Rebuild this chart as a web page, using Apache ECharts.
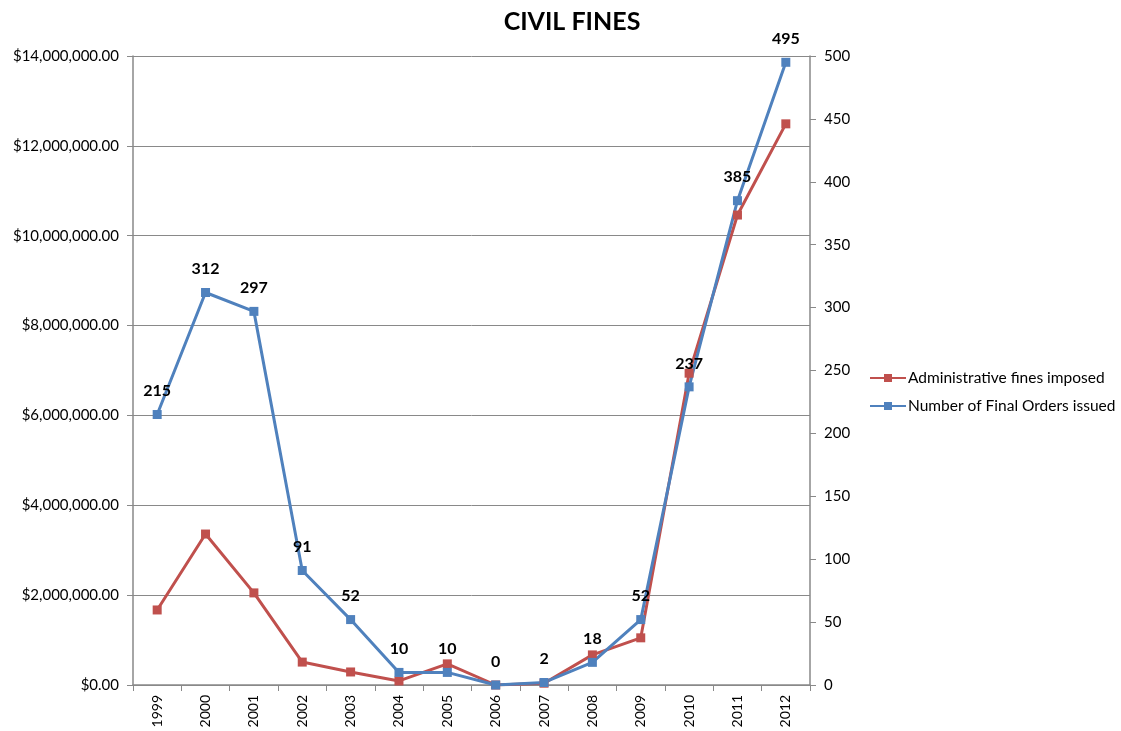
<!DOCTYPE html>
<html>
<head>
<meta charset="utf-8">
<script src="https://cdn.jsdelivr.net/npm/echarts@6/dist/echarts.min.js"></script>
<style>html,body{margin:0;padding:0;background:#fff}#c{width:1121px;height:731px}</style>
</head>
<body>
<div id="c"></div>
<script>
const years = ['1999','2000','2001','2002','2003','2004','2005','2006','2007','2008','2009','2010','2011','2012'];
const fines = [1670000, 3360000, 2050000, 510000, 290000, 90000, 470000, 0, 40000, 670000, 1050000, 6940000, 10460000, 12490000];
const orders = [215, 312, 297, 91, 52, 10, 10, 0, 2, 18, 52, 237, 385, 495];
const finesName = 'Administrative fines imposed';
const ordersName = 'Number of Final Orders issued';

const font = 'Lato, "Open Sans", sans-serif';
const axisGray = '#898989';
const chart = echarts.init(document.getElementById('c'));
chart.setOption({
  animation: false,
  title: {
    text: 'CIVIL FINES', left: 567, top: 4, textAlign: 'center',
    textStyle: {fontFamily: font, fontSize: 25, fontWeight: 'bold', color: '#000'}
  },
  legend: {
    orient: 'vertical', left: 864, top: 365, itemGap: 12,
    itemWidth: 36, itemHeight: 10,
    textStyle: {fontFamily: font, fontSize: 15.5, color: '#000', padding: [0, 0, 0, -3]},
    data: [finesName, ordersName]
  },
  grid: {left: 133, right: 311, top: 56, bottom: 46},
  xAxis: {
    type: 'category', data: years, boundaryGap: true,
    axisLine: {lineStyle: {color: axisGray, width: 1.5}},
    axisTick: {show: true, length: 6, lineStyle: {color: axisGray}},
    axisLabel: {rotate: 90, fontFamily: font, fontSize: 14, color: '#000', margin: 10}
  },
  yAxis: [{
    type: 'value', min: 0, max: 14000000, interval: 2000000,
    axisLine: {show: true, lineStyle: {color: axisGray, width: 1.5}},
    axisTick: {show: true, length: 6, lineStyle: {color: axisGray}},
    splitLine: {lineStyle: {color: axisGray, width: 1}},
    axisLabel: {
      fontFamily: font, fontSize: 15, color: '#000', margin: 14,
      formatter: v => '$' + v.toLocaleString('en-US', {minimumFractionDigits: 2, maximumFractionDigits: 2})
    }
  }, {
    type: 'value', min: 0, max: 500, interval: 50, position: 'right',
    axisLine: {show: true, lineStyle: {color: axisGray, width: 1.5}},
    axisTick: {show: true, length: 6, lineStyle: {color: axisGray}},
    splitLine: {show: false},
    axisLabel: {fontFamily: font, fontSize: 15, color: '#000', margin: 14}
  }],
  series: [{
    name: finesName, type: 'line', yAxisIndex: 0, data: fines,
    symbol: 'rect', symbolSize: 9,
    lineStyle: {color: '#c0504d', width: 3},
    itemStyle: {color: '#c0504d'}
  }, {
    name: ordersName, type: 'line', yAxisIndex: 1, data: orders,
    symbol: 'rect', symbolSize: 9,
    lineStyle: {color: '#4f81bd', width: 3},
    itemStyle: {color: '#4f81bd'},
    label: {show: true, position: 'top', distance: 11, fontFamily: font, fontSize: 16, fontWeight: 'bold', color: '#000'}
  }]
});
</script>
</body>
</html>
